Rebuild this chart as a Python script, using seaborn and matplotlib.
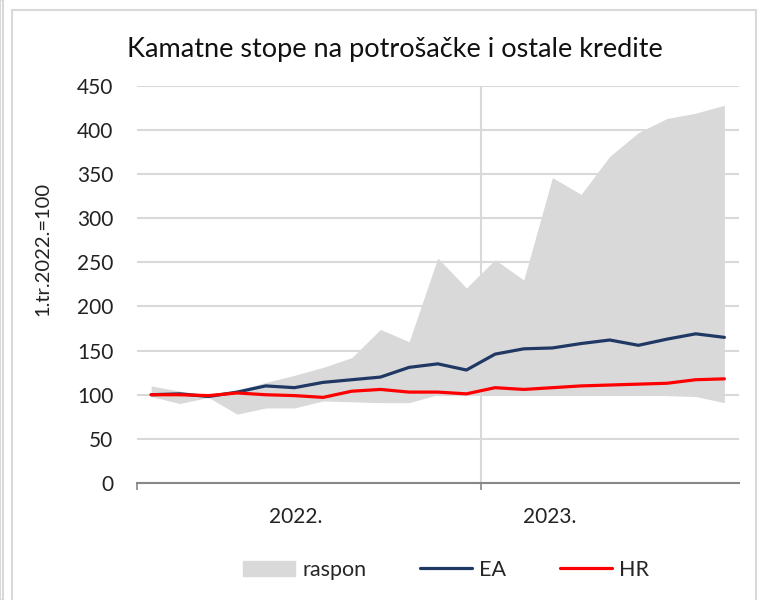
import pandas as pd
import matplotlib.pyplot as plt
import matplotlib.patches as mpatches
from matplotlib.lines import Line2D
import seaborn as sns

months = pd.date_range('2022-01-01', '2023-09-01', freq='MS').strftime('%m/%Y').tolist()
year_labels = ['2022.', '2023.']

ea = [100, 101, 98, 103, 110, 108, 114, 117, 120, 131, 135,
      128, 146, 152, 153, 158, 162, 156, 163, 169, 165]
hr = [100, 100, 99, 102, 100, 99, 97, 104, 106, 103, 103,
      101, 108, 106, 108, 110, 111, 112, 113, 117, 118]
range_high = [110, 104, 100, 105, 114, 122, 131, 142, 174, 160, 255,
              221, 253, 230, 346, 327, 370, 397, 413, 419, 428]
range_low = [98, 90, 97, 78, 85, 85, 93, 92, 91, 91, 100,
             99, 100, 100, 100, 100, 100, 100, 99, 98, 91]

df = pd.DataFrame({'mjesec': range(len(months)), 'EA': ea, 'HR': hr,
                   'low': range_low, 'high': range_high})

sns.set_style('white')
plt.rcParams['font.family'] = ['Lato', 'DejaVu Sans']

fig = plt.figure(figsize=(7.6, 6), dpi=100)
ax = fig.add_axes([0.180, 0.195, 0.792, 0.662])

grid_col = '#d9d9d9'
txt_col = '#222222'
ax.fill_between(df['mjesec'], df['low'], df['high'], color=grid_col, lw=0, zorder=2)
sns.lineplot(data=df, x='mjesec', y='EA', color='#1f3864', lw=2.3, ax=ax, zorder=3)
sns.lineplot(data=df, x='mjesec', y='HR', color='#ff0000', lw=2.3, ax=ax, zorder=4)

ax.set_xlim(-0.5, len(months) - 0.5)
ax.set_ylim(0, 450)
ax.set_yticks(range(0, 451, 50))
ax.yaxis.grid(True, color=grid_col, lw=1.5, zorder=0)
ax.axvline(11.5, color=grid_col, lw=1.5, zorder=0)
ax.set_axisbelow(True)

# year labels sit between the major (boundary) ticks
ax.set_xticks([-0.5, 11.5])
ax.set_xticklabels(['', ''])
ax.set_xticks([5.05, 13.9], minor=True)
ax.set_xticklabels(year_labels, minor=True)
ax.tick_params(axis='x', which='major', length=5, width=1.2, color='#888888', direction='out', bottom=True)
ax.tick_params(axis='x', which='minor', length=0, pad=17, labelsize=15, labelcolor=txt_col)
ax.tick_params(axis='y', length=0, pad=17, labelsize=15, labelcolor=txt_col)

for s in ['top', 'right', 'left']:
    ax.spines[s].set_visible(False)
ax.spines['bottom'].set_color('#888888')
ax.spines['bottom'].set_linewidth(1.5)

ax.set_xlabel('')
ax.set_ylabel('1.tr.2022.=100', fontsize=14.5, color=txt_col)
ax.yaxis.set_label_coords(-0.142, 0.59)

fig.text(0.519, 0.918, 'Kamatne stope na potrošačke i ostale kredite',
         ha='center', va='center', fontsize=19.5, color='#111111')

handles = [mpatches.Patch(color=grid_col),
           Line2D([], [], color='#1f3864', lw=2.3),
           Line2D([], [], color='#ff0000', lw=2.3)]
fig.legend(handles, ['raspon', 'EA', 'HR'], loc='center', bbox_to_anchor=(0.587, 0.05),
           ncol=3, frameon=False, fontsize=15.5, handlelength=2.4, handleheight=0.75,
           columnspacing=2.5, handletextpad=0.35)

fig.patches.append(mpatches.Rectangle((12 / 760, -2 / 600), 744 / 760, 592 / 600,
                                      transform=fig.transFigure, fill=False,
                                      edgecolor='#d9d9d9', lw=1.5))
fig.patches.append(mpatches.Rectangle((0, 0), 3 / 760, 1, transform=fig.transFigure,
                                      fill=False, edgecolor='#d9d9d9', lw=1.5))

fig.savefig('out.png', dpi=100)
